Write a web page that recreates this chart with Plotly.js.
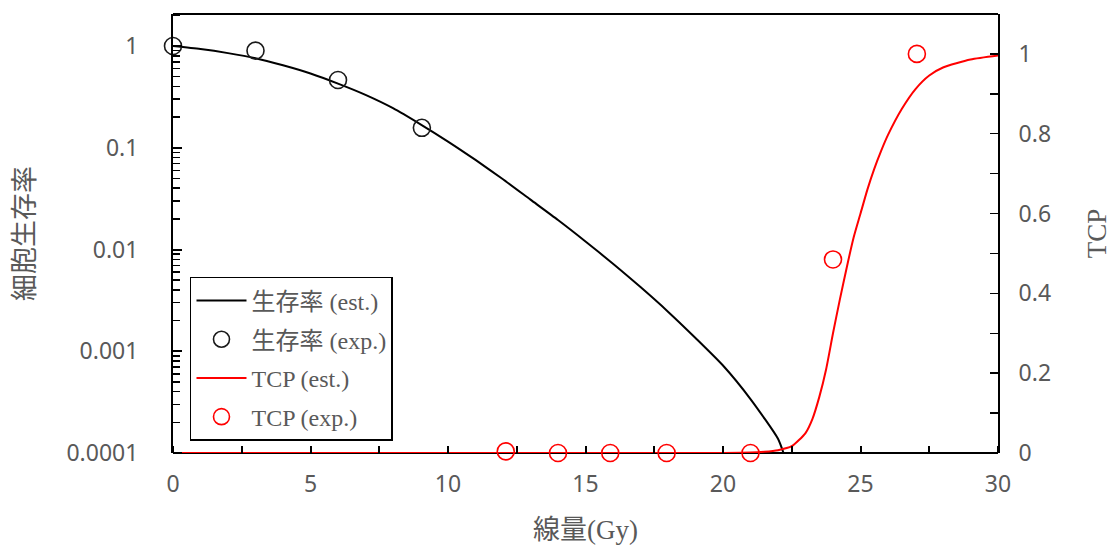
<!DOCTYPE html>
<html>
<head>
<meta charset="utf-8">
<script src="https://cdn.plot.ly/plotly-3.0.1.min.js"></script>
<style>html,body{margin:0;padding:0;background:#fff;}#chart{width:1115px;height:551px;}</style>
</head>
<body>
<div id="chart"></div>
<script>
// Survival fraction (estimated curve)
var survDose = [0,1,2,3,4,5,6,7,8,9,10,11,12,13,14,15,16,17,18,19,20,21,22,22.2];
var survEst = [1,0.933,0.851,0.759,0.646,0.537,0.427,0.331,0.245,0.170,0.115,0.0759,0.049,0.0309,0.0195,0.0120,0.00724,0.00427,0.00245,0.00135,0.000724,0.000339,0.000138,0.0001];
// Survival fraction (experimental)
var survExpDose = [0,3,6,9.05];
var survExp = [1.0,0.90,0.463,0.157];
// TCP (estimated curve)
var tcpDose = [0,20,21,21.5,22,22.5,23,23.25,23.5,23.75,24,24.25,24.5,24.75,25,25.25,25.5,25.75,26,26.5,27,27.5,28,29,30];
var tcpEst = [0,0,0.001,0.003,0.007,0.017,0.05,0.085,0.14,0.21,0.30,0.385,0.465,0.54,0.60,0.66,0.712,0.757,0.797,0.862,0.912,0.946,0.966,0.986,0.996];
// TCP (experimental)
var tcpExpDose = [12.1,14,15.9,17.95,21,24,27.05];
var tcpExp = [0.004,0,0,0,0,0.485,1.0];

var names = ['生存率 (est.)','生存率 (exp.)','TCP (est.)','TCP (exp.)'];
var xTickVals = [0,5,10,15,20,25,30];
var xMinorVals = [2.5,7.5,12.5,17.5,22.5,27.5];
var yTickVals = [1,0.1,0.01,0.001,0.0001];
var yTickText = ['1','0.1','0.01','0.001','0.0001'];
var y2TickVals = [0,0.2,0.4,0.6,0.8,1];
var y2TickText = ['0','0.2','0.4','0.6','0.8','1'];
var y2MinorVals = [0.1,0.3,0.5,0.7,0.9];
// log minor tick positions (2..9 within each decade)
var yMinorVals = [];
[0.0001,0.001,0.01,0.1,1].forEach(function(d){ for (var k=2;k<=9;k++){ yMinorVals.push(d*k); } });

var gray = '#595959';
var serifFont = '"Liberation Serif", "Noto Sans CJK JP", serif';
function numFont(){ return {family:'"Noto Sans", "Open Sans", sans-serif', size:23, color:gray}; }
var xRange = [0,30];
var logRange = [-4,0.3145];

var traces = [
  {x:survDose, y:survEst, name:names[0], type:'scatter', mode:'lines', xaxis:'x', yaxis:'y',
   line:{color:'#000', width:2, shape:'spline', smoothing:0.6}, legendgroup:'a'},
  {x:survExpDose, y:survExp, name:names[1], type:'scatter', mode:'markers', xaxis:'x', yaxis:'y3',
   marker:{symbol:'circle-open', size:17, color:'#1a1a1a', line:{width:1.6}}, legendgroup:'b', cliponaxis:false},
  {x:tcpDose, y:tcpEst, name:names[2], type:'scatter', mode:'lines', xaxis:'x', yaxis:'y2',
   line:{color:'#ff0000', width:2, shape:'spline', smoothing:0.6}, legendgroup:'c'},
  {x:tcpExpDose, y:tcpExp, name:names[3], type:'scatter', mode:'markers', xaxis:'x2', yaxis:'y2',
   marker:{symbol:'circle-open', size:17, color:'#ff0000', line:{width:1.6}}, legendgroup:'d', cliponaxis:false}
];

var layout = {
  width:1115, height:551,
  margin:{l:173, r:117, t:14, b:98},
  showlegend:true,
  legend:{x:0.0206, y:0.401, xanchor:'left', yanchor:'top', bgcolor:'#fff',
    bordercolor:'#000', borderwidth:1.5, tracegroupgap:4.5, traceorder:'grouped', itemwidth:50,
    font:{family:serifFont, size:24, color:gray}},
  // plot frame lines (top and bottom) drawn beneath the traces so the red TCP line covers the bottom edge
  shapes:[
    {type:'line', xref:'paper', yref:'paper', x0:0, x1:1, y0:0, y1:0, layer:'below', line:{color:'#000', width:2}},
    {type:'line', xref:'paper', yref:'paper', x0:0, x1:1, y0:1, y1:1, layer:'below', line:{color:'#000', width:2}}
  ],
  // main dose axis: labels and title
  xaxis:{range:xRange, tickvals:xTickVals, ticks:'inside', ticklen:7, tickwidth:2, tickcolor:'#000',
    minor:{tickvals:xMinorVals, ticks:'inside', ticklen:7, tickwidth:2, tickcolor:'#000'},
    showline:false, showgrid:false, zeroline:false,
    tickfont:numFont(), ticklabelstandoff:15,
    title:{text:'線量(Gy)', font:{family:serifFont, size:27, color:gray}, standoff:22}},
  // twin dose axis placed on the bottom edge, ticks pointing up into the plot
  xaxis2:{overlaying:'x', side:'top', anchor:'free', position:0, range:xRange,
    tickvals:xTickVals, ticks:'outside', ticklen:7, tickwidth:2, tickcolor:'#000',
    minor:{tickvals:xMinorVals, ticks:'outside', ticklen:7, tickwidth:2, tickcolor:'#000'},
    showticklabels:false, showline:false, showgrid:false, zeroline:false},
  yaxis:{type:'log', range:logRange, tickvals:yTickVals, ticktext:yTickText,
    ticks:'inside', ticklen:8, tickwidth:2, tickcolor:'#000',
    minor:{tickvals:yMinorVals, ticks:'inside', ticklen:6, tickwidth:1.5, tickcolor:'#000'},
    showline:true, linecolor:'#000', linewidth:2, showgrid:false, zeroline:false,
    tickfont:numFont(), ticklabelstandoff:28,
    title:{text:'細胞生存率', font:{family:'"Noto Sans CJK JP", sans-serif', size:27, color:gray}, standoff:24}},
  yaxis2:{overlaying:'y', side:'right', range:[0,1.1], tickvals:y2TickVals, ticktext:y2TickText,
    ticks:'inside', ticklen:8, tickwidth:1.5, tickcolor:'#000',
    minor:{tickvals:y2MinorVals, ticks:'inside', ticklen:8, tickwidth:1.5, tickcolor:'#000'},
    showline:true, linecolor:'#000', linewidth:2, showgrid:false, zeroline:false,
    tickfont:numFont(), ticklabelstandoff:14,
    title:{text:'TCP', font:{family:serifFont, size:27, color:gray}, standoff:37}},
  // twin log axis placed on the left edge, ticks pointing right into the plot
  yaxis3:{overlaying:'y', type:'log', range:logRange, side:'right', anchor:'free', position:0,
    tickvals:yTickVals, ticks:'outside', ticklen:8, tickwidth:2, tickcolor:'#000',
    minor:{tickvals:yMinorVals, ticks:'outside', ticklen:6, tickwidth:1.5, tickcolor:'#000'},
    showticklabels:false, showline:false, showgrid:false, zeroline:false}
};

Plotly.newPlot('chart', traces, layout, {displayModeBar:false, staticPlot:true});
</script>
</body>
</html>
